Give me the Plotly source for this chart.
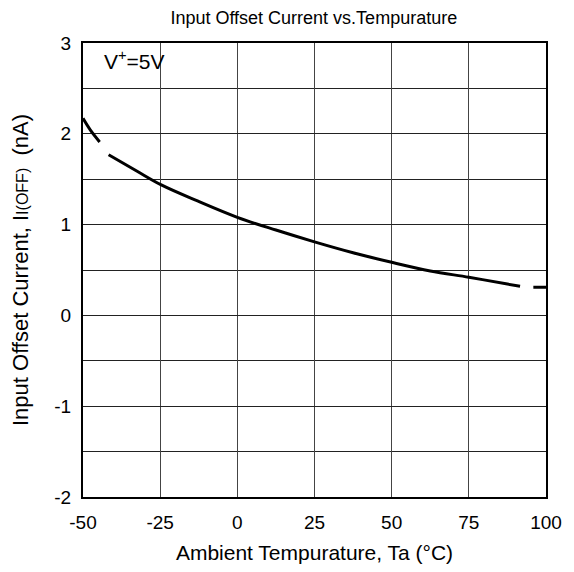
import plotly.graph_objects as go

# Curve segments (temperature °C, offset current nA)
seg1_x = [-50, -47.6, -44.6]
seg1_y = [2.17, 2.04, 1.91]
seg2_x = [-41.7, -32.6, -24.8, -12.9, 0, 12.5, 25, 37.5, 50, 62.5, 75, 87.5, 91.6]
seg2_y = [1.77, 1.59, 1.44, 1.26, 1.08, 0.94, 0.81, 0.69, 0.585, 0.49, 0.42, 0.345, 0.32]
seg3_x = [95.9, 100]
seg3_y = [0.31, 0.31]

x_ticks = [-50, -25, 0, 25, 50, 75, 100]
x_labels = ["-50", "-25", "0", "25", "50", "75", "100"]
y_ticks = [-2, -1, 0, 1, 2, 3]
y_labels = ["-2", "-1", "0", "1", "2", "3"]

FONT = "Liberation Sans, Arial, sans-serif"

fig = go.Figure()
for xs, ys in [(seg1_x, seg1_y), (seg2_x, seg2_y), (seg3_x, seg3_y)]:
    fig.add_trace(go.Scatter(x=xs, y=ys, mode="lines",
                             line=dict(color="black", width=3, shape="spline"),
                             showlegend=False, hoverinfo="skip"))

fig.update_layout(
    width=558, height=556,
    margin=dict(l=75, r=20, t=35, b=67, autoexpand=False),
    paper_bgcolor="white", plot_bgcolor="white",
    font=dict(family=FONT, color="black", size=19),
    title=dict(text="Input Offset Current vs.Tempurature", x=0.548, xanchor="center",
               y=0.982, yanchor="middle", font=dict(size=18, family=FONT)),
    xaxis=dict(range=[-50, 100], tickvals=x_ticks, ticktext=x_labels, ticks="", showgrid=True,
               gridcolor="#444444", gridwidth=1, zeroline=False, automargin=False,
               showline=True, linecolor="black", linewidth=2, mirror=True,
               tickfont=dict(size=19), ticklabelstandoff=7,
               title=dict(text="Ambient Tempurature, Ta (°C)", font=dict(size=21), standoff=20)),
    yaxis=dict(range=[-2, 3], tickvals=y_ticks, ticktext=y_labels, ticks="", showgrid=True,
               gridcolor="#222222", gridwidth=1, zeroline=False, automargin=False,
               showline=True, linecolor="black", linewidth=2, mirror=True,
               tickfont=dict(size=19), ticklabelstandoff=6,
               minor=dict(dtick=0.5, showgrid=True, gridcolor="#222222", gridwidth=1, ticks=""),
               title=dict(text="Input Offset Current, I<span style='font-size:16px'>I(OFF)</span>  (nA)",
                          font=dict(size=22), standoff=22)),
)

fig.add_annotation(x=0.041, y=0.962, xref="paper", yref="paper",
                   text="V<sup>+</sup>=5V", showarrow=False,
                   xanchor="left", yanchor="middle", font=dict(size=21, family=FONT))

fig.write_html("out.html")
